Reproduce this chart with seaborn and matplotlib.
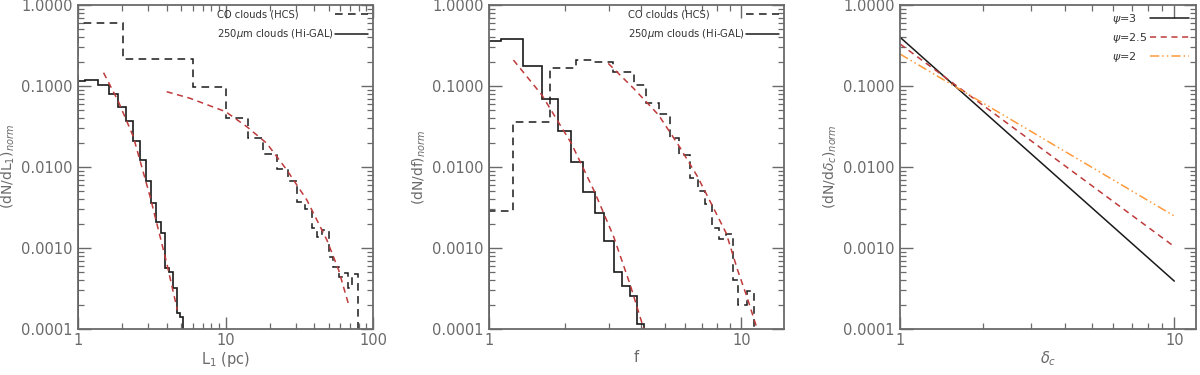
import numpy as np
import pandas as pd
import matplotlib
matplotlib.use("Agg")
import matplotlib.pyplot as plt
from matplotlib.lines import Line2D
from matplotlib.ticker import FixedLocator, FixedFormatter, LogLocator, NullFormatter
import seaborn as sns

# ---- panel 1: L1 distributions ----
l1_hig_edges = [1.0, 1.11, 1.37, 1.63, 1.88, 2.12, 2.37, 2.63, 2.89, 3.13, 3.38,
                3.64, 3.91, 4.14, 4.39, 4.67, 4.92, 5.17]
l1_hig_vals = [0.115, 0.119, 0.104, 0.080, 0.0556, 0.0373, 0.0211, 0.0122, 0.0067,
               0.00356, 0.00209, 0.00155, 0.00057, 0.00051, 0.00032, 0.000156, 0.000139]
l1_co_edges = [1.0, 2.01, 6.0, 10.0, 14.1, 18.0, 22.2, 26.4, 30.4, 34.6, 38.4, 41.9,
               44.9, 49.8, 53.8, 58.2, 63.0, 68.0, 72.4, 78.3]
l1_co_vals = [0.605, 0.217, 0.0964, 0.0399, 0.0230, 0.0143, 0.00944, 0.00671, 0.00373,
              0.0030, 0.00178, 0.00138, 0.00167, 0.00078, 0.00059, 0.00044, 0.00049,
              0.00032, 0.00048]
l1_fit_hig_x = [1.49, 1.88, 2.37, 3.08, 3.99, 4.71]
l1_fit_hig_y = [0.146, 0.064, 0.0237, 0.0043, 0.00065, 0.000172]
l1_fit_co_x = [3.99, 5.74, 10.0, 13.9, 19.0, 26.0, 35.5, 48.5, 58.2, 68.0]
l1_fit_co_y = [0.085, 0.0705, 0.0482, 0.0315, 0.0196, 0.00918, 0.00392, 0.00126,
               0.00054, 0.000203]

# ---- panel 2: f distributions ----
f_hig_edges = [1.0, 1.12, 1.37, 1.62, 1.87, 2.12, 2.35, 2.62, 2.86, 3.12, 3.38, 3.63,
               3.86, 4.10]
f_hig_vals = [0.36, 0.377, 0.177, 0.0685, 0.0281, 0.0115, 0.00487, 0.00268, 0.00123,
              0.00051, 0.000343, 0.000255, 0.000115]
f_co_edges = [1.0, 1.25, 1.746, 2.21, 2.59, 3.11, 3.74, 4.20, 4.70, 5.20, 5.69, 6.24,
              6.71, 7.20, 7.65, 8.13, 8.72, 9.27, 9.67, 10.53, 11.19]
f_co_vals = [0.00289, 0.0356, 0.168, 0.209, 0.196, 0.150, 0.103, 0.0611, 0.0447,
             0.0230, 0.0141, 0.00738, 0.00506, 0.00346, 0.00175, 0.00129, 0.00148,
             0.000403, 0.000198, 0.000294]
f_fit_hig_x = [1.25, 1.62, 2.12, 2.62, 3.12, 3.63, 4.10]
f_fit_hig_y = [0.209, 0.0774, 0.0196, 0.00495, 0.00138, 0.00035, 0.000102]
f_fit_co_x = [2.97, 3.74, 4.70, 5.69, 6.71, 7.65, 8.72, 9.67, 10.53, 11.54]
f_fit_co_y = [0.19, 0.0936, 0.0439, 0.0178, 0.00759, 0.0034, 0.00152, 0.000535,
              0.00025, 0.000102]

# ---- panel 3: delta_c power laws ----
dc_x = [1, 10]
psi_labels = [r"$\psi$=3", r"$\psi$=2.5", r"$\psi$=2"]
psi_vals = [[0.40, 0.00039], [0.33, 0.00104], [0.248, 0.00248]]

sns.set_theme(style="ticks")
grey = "#6a6a6a"
plt.rcParams.update({
    "font.family": ["DejaVu Sans"],
    "axes.edgecolor": grey,
    "axes.linewidth": 1.3,
    "xtick.color": grey,
    "ytick.color": grey,
    "axes.labelcolor": grey,
    "text.color": grey,
    "mathtext.fontset": "dejavusans",
})

fig = plt.figure(figsize=(12, 3.75), dpi=100)
axes = [fig.add_axes([0.065, 0.1227, 0.246, 0.864]),
        fig.add_axes([0.4075, 0.1227, 0.246, 0.864]),
        fig.add_axes([0.75, 0.1227, 0.2467, 0.864])]

ymin, ymax = 1e-4, 1.0
red = "#bf3a3a"
black = "#1a1a1a"
dash_black = (0, (5, 3.5))
dash_red = (0, (4, 3))


def style_axis(ax, xlim, xticks, xlabel, ylabel):
    ax.set_xscale("log")
    ax.set_yscale("log")
    ax.set_xlim(*xlim)
    ax.set_ylim(ymin, ymax)
    ax.xaxis.set_major_locator(FixedLocator(xticks))
    ax.xaxis.set_major_formatter(FixedFormatter([str(t) for t in xticks]))
    ax.xaxis.set_minor_locator(LogLocator(base=10, subs=np.arange(2, 10)))
    ax.xaxis.set_minor_formatter(NullFormatter())
    yt = [1e-4, 1e-3, 1e-2, 1e-1, 1.0]
    ax.yaxis.set_major_locator(FixedLocator(yt))
    ax.yaxis.set_major_formatter(FixedFormatter(["0.0001", "0.0010", "0.0100", "0.1000", "1.0000"]))
    ax.yaxis.set_minor_locator(LogLocator(base=10, subs=np.arange(2, 10)))
    ax.yaxis.set_minor_formatter(NullFormatter())
    ax.tick_params(which="both", direction="in", top=True, right=True, labelsize=10.5)
    ax.tick_params(axis="x", which="major", pad=3)
    ax.tick_params(axis="y", which="major", pad=4)
    ax.tick_params(which="major", length=9, width=1.0)
    ax.tick_params(which="minor", length=4.5, width=0.9)
    ax.set_xlabel(xlabel, fontsize=10.5, labelpad=1)
    ax.set_ylabel(ylabel, fontsize=10, labelpad=3)
    for s in ax.spines.values():
        s.set_visible(True)


def left_align_labels(leg):
    # labels sit left of the line samples; push shorter labels' samples out so
    # every label starts at the same x and every sample ends at the right edge
    fig.canvas.draw()
    r = fig.canvas.get_renderer()
    widths = [t.get_window_extent(r).width for t in leg.get_texts()]
    wmax = max(widths)
    entries = leg._legend_handle_box.get_children()[0].get_children()
    for entry, w in zip(entries, widths):
        entry.sep += (wmax - w) * 72.0 / fig.dpi


def hist_legend(ax):
    handles = [Line2D([], [], color=black, lw=1.1, linestyle=dash_black),
               Line2D([], [], color=black, lw=1.1)]
    labels = ["CO clouds (HCS)", r"250$\mu$m clouds (Hi-GAL)"]
    return ax.legend(handles, labels, loc="upper right", markerfirst=False, frameon=False,
                     fontsize=7.2, handlelength=3.3, handletextpad=0.1, borderaxespad=0.1,
                     labelspacing=0.75, labelcolor="#333333")


# panel 1
ax = axes[0]
ax.stairs(l1_hig_vals, l1_hig_edges, baseline=ymin, color=black, lw=1.2)
ax.stairs(l1_co_vals, l1_co_edges, baseline=ymin, color=black, lw=1.1, linestyle=dash_black)
sns.lineplot(x=l1_fit_hig_x, y=l1_fit_hig_y, ax=ax, color=red, lw=1.1, linestyle=dash_red)
sns.lineplot(x=l1_fit_co_x, y=l1_fit_co_y, ax=ax, color=red, lw=1.1, linestyle=dash_red)
style_axis(ax, (1, 100), [1, 10, 100], r"L$_1$ (pc)", r"(dN/dL$_1$)$_{norm}$")
leg1 = hist_legend(ax)

# panel 2
ax = axes[1]
ax.stairs(f_hig_vals, f_hig_edges, baseline=ymin, color=black, lw=1.2)
ax.stairs(f_co_vals, f_co_edges, baseline=ymin, color=black, lw=1.1, linestyle=dash_black)
sns.lineplot(x=f_fit_hig_x, y=f_fit_hig_y, ax=ax, color=red, lw=1.1, linestyle=dash_red)
sns.lineplot(x=f_fit_co_x, y=f_fit_co_y, ax=ax, color=red, lw=1.1, linestyle=dash_red)
style_axis(ax, (1, 14.8), [1, 10], "f", r"(dN/df)$_{norm}$")
leg2 = hist_legend(ax)

# panel 3
ax = axes[2]
psi_df = pd.DataFrame({
    "delta_c": dc_x * len(psi_labels),
    "value": [v for pair in psi_vals for v in pair],
    "psi": [lab for lab in psi_labels for _ in dc_x],
})
psi_colors = {psi_labels[0]: black, psi_labels[1]: red, psi_labels[2]: "#ff9a3c"}
sns.lineplot(data=psi_df, x="delta_c", y="value", hue="psi", style="psi",
             palette=psi_colors,
             dashes={psi_labels[0]: "", psi_labels[1]: (4, 3), psi_labels[2]: (6, 2, 1, 2, 1, 2)},
             ax=ax, lw=1.1)
style_axis(ax, (1, 12.0), [1, 10], r"$\delta_c$", r"(dN/d$\delta_c$)$_{norm}$")
h, l = ax.get_legend_handles_labels()
leg3 = ax.legend(h, l, loc="upper right", markerfirst=False, frameon=False,
                 fontsize=8, handlelength=3.5, handletextpad=0.3, borderaxespad=0.2,
                 labelspacing=0.45, labelcolor="#333333")

for leg in (leg1, leg2, leg3):
    left_align_labels(leg)

fig.savefig("out.png", dpi=100)
